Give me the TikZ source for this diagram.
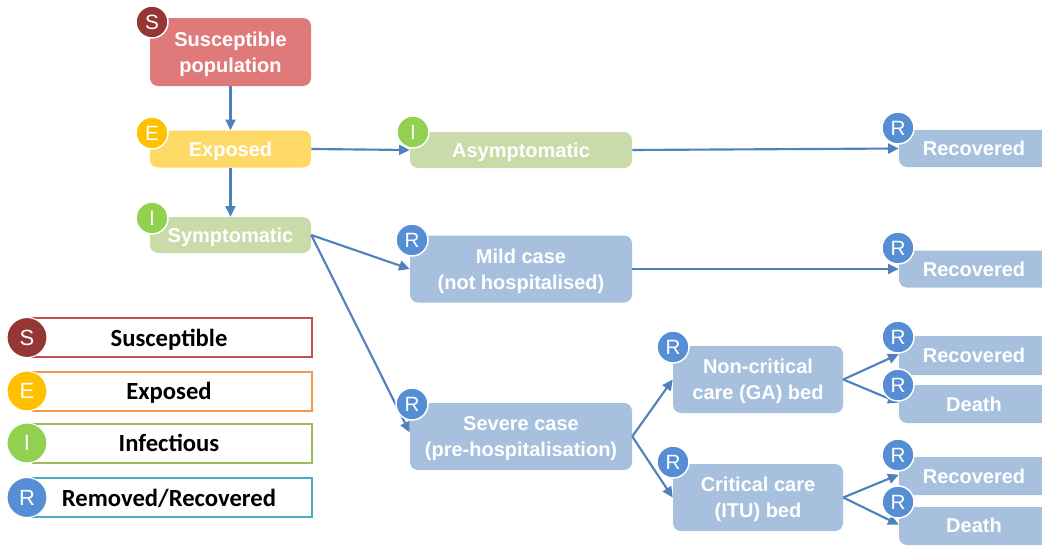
\documentclass[tikz,border=0pt]{standalone}
\usepackage{fontspec}
\setmainfont{Liberation Sans}
\newfontfamily\carlito{Carlito}
\usetikzlibrary{arrows.meta}
\definecolor{sfill}{RGB}{224,122,122}
\definecolor{sbadge}{RGB}{148,54,52}
\definecolor{efill}{RGB}{255,217,102}
\definecolor{ebadge}{RGB}{255,192,0}
\definecolor{ifill}{RGB}{201,219,169}
\definecolor{ibadge}{RGB}{146,208,80}
\definecolor{rfill}{RGB}{167,192,222}
\definecolor{rbadge}{RGB}{85,142,213}
\definecolor{arrc}{RGB}{79,129,189}
\definecolor{lgs}{RGB}{192,80,77}
\definecolor{lge}{RGB}{247,150,70}
\definecolor{lgi}{RGB}{155,187,89}
\definecolor{lgr}{RGB}{75,172,198}
\begin{document}
\begin{tikzpicture}[x=0.75pt,y=-0.75pt,
  box/.style 2 args={rounded corners=6pt, minimum width=#1*0.75pt, minimum height=#2*0.75pt,
    inner sep=0pt, align=center, text=white, font=\fontsize{15}{19.5}\selectfont\bfseries,
    text depth=0pt, draw=none},
  outtxt/.style={text=white, font=\fontsize{15}{19.5}\selectfont\bfseries, text depth=0pt},
  badge/.style={circle, minimum size=24pt, inner sep=0pt, draw=white, line width=1.1pt,
    text=white, font=\fontsize{15.5}{15.5}\selectfont},
  lgbox/.style={draw=#1, line width=1.5pt, fill=white, minimum width=279*0.75pt,
    minimum height=39*0.75pt, inner sep=0pt},
  lgtxt/.style={font=\carlito\fontsize{18.5}{20}\selectfont\bfseries, text depth=0pt},
  lgcirc/.style={circle, minimum size=30pt, inner sep=0pt, draw=white, line width=0.8pt,
    text=white, font=\fontsize{16.5}{16.5}\selectfont},
  arr/.style={draw=arrc, line width=1.6pt, -{Triangle[length=8pt,width=7.5pt]}}
]
\useasboundingbox (0,0) rectangle (1042,546);
\clip (0,0) rectangle (1042,546);

% main column
\node[box={161}{68}, fill=sfill] (sus) at (230.5,52) {Susceptible\\population};
\node[box={161}{37}, fill=efill] (exp) at (230.5,149) {Exposed};
\node[box={161}{36}, fill=ifill] (sym) at (230.5,235) {Symptomatic};

% second column
\node[box={222}{36}, fill=ifill] (asy) at (521,150) {Asymptomatic};
\node[box={222}{67}, fill=rfill] (mild) at (521,269) {Mild case\\(not hospitalised)};
\node[box={222}{67}, fill=rfill] (sev) at (521,436.5) {Severe case\\(pre-hospitalisation)};

% third column
\node[box={170}{67}, fill=rfill] (nc) at (758,379.5) {Non-critical\\care (GA) bed};
\node[box={170}{67}, fill=rfill] (cc) at (758,497.5) {Critical care\\(ITU) bed};

% outcomes (clipped at right edge)
\node[box={200}{37}, fill=rfill] (r1) at (999,148.5) {};
\node[box={200}{37}, fill=rfill] (r2) at (999,269) {};
\node[box={200}{39}, fill=rfill] (r3) at (999,355.5) {};
\node[box={200}{38}, fill=rfill] (d3) at (999,404) {};
\node[box={200}{38}, fill=rfill] (r4) at (999,476) {};
\node[box={200}{38}, fill=rfill] (d4) at (999,526) {};
\node[outtxt] (r1t) at (974,148.5) {Recovered};
\node[outtxt] (r2t) at (974,269) {Recovered};
\node[outtxt] (r3t) at (974,355.5) {Recovered};
\node[outtxt] (d3t) at (974,404) {Death};
\node[outtxt] (r4t) at (974,476) {Recovered};
\node[outtxt] (d4t) at (974,525.5) {Death};

% arrows
\draw[arr] (sus.south) -- (exp.north);
\draw[arr] (exp.south) -- (sym.north);
\draw[arr] (exp.east) -- (asy.west);
\draw[arr] (asy.east) -- (r1.west);
\draw[arr] (sym.east) -- (mild.west);
\draw[arr] (sym.east) -- ([yshift=3pt]sev.west);
\draw[arr] (mild.east) -- (r2.west);
\draw[arr] (sev.east) -- (nc.west);
\draw[arr] (sev.east) -- (cc.west);
\draw[arr] (nc.east) -- ([yshift=1pt]r3.west);
\draw[arr] (nc.east) -- ([yshift=1pt]d3.west);
\draw[arr] (cc.east) -- ([yshift=1pt]r4.west);
\draw[arr] (cc.east) -- ([yshift=1pt]d4.west);

% badges
\node[badge, fill=sbadge] (bs) at (152,22) {S};
\node[badge, fill=ebadge] (be) at (152,133) {E};
\node[badge, fill=ibadge] (bi1) at (152,218) {I};
\node[badge, fill=ibadge] (bi2) at (413,132) {I};
\node[badge, fill=rbadge] (bm) at (412,240) {R};
\node[badge, fill=rbadge] (bsv) at (412,404) {R};
\node[badge, fill=rbadge] (bnc) at (673,347) {R};
\node[badge, fill=rbadge] (bcc) at (673,462) {R};
\node[badge, fill=rbadge] (br1) at (898,128) {R};
\node[badge, fill=rbadge] (br2) at (898,248) {R};
\node[badge, fill=rbadge] (br3) at (898,337) {R};
\node[badge, fill=rbadge] (bd3) at (898,385) {R};
\node[badge, fill=rbadge] (br4) at (898,455) {R};
\node[badge, fill=rbadge] (bd4) at (898,502) {R};

% legend
\node[lgbox=lgs] (ls) at (172.5,337.5) {};
\node[lgbox=lge] (le) at (172.5,391) {};
\node[lgbox=lgi] (li) at (172.5,443) {};
\node[lgbox=lgr] (lr) at (172.5,497.5) {};
\node[lgtxt] (lst) at (169,337.5) {Susceptible};
\node[lgtxt] (let) at (169,391) {Exposed};
\node[lgtxt] (lit) at (169,443) {Infectious};
\node[lgtxt] (lrt) at (169,497.5) {Removed/Recovered};
\node[lgcirc, fill=sbadge] (lcs) at (27,337.5) {S};
\node[lgcirc, fill=ebadge] (lce) at (27,391) {E};
\node[lgcirc, fill=ibadge] (lci) at (27,443) {I};
\node[lgcirc, fill=rbadge] (lcr) at (27,497.5) {R};
\end{tikzpicture}
\end{document}
